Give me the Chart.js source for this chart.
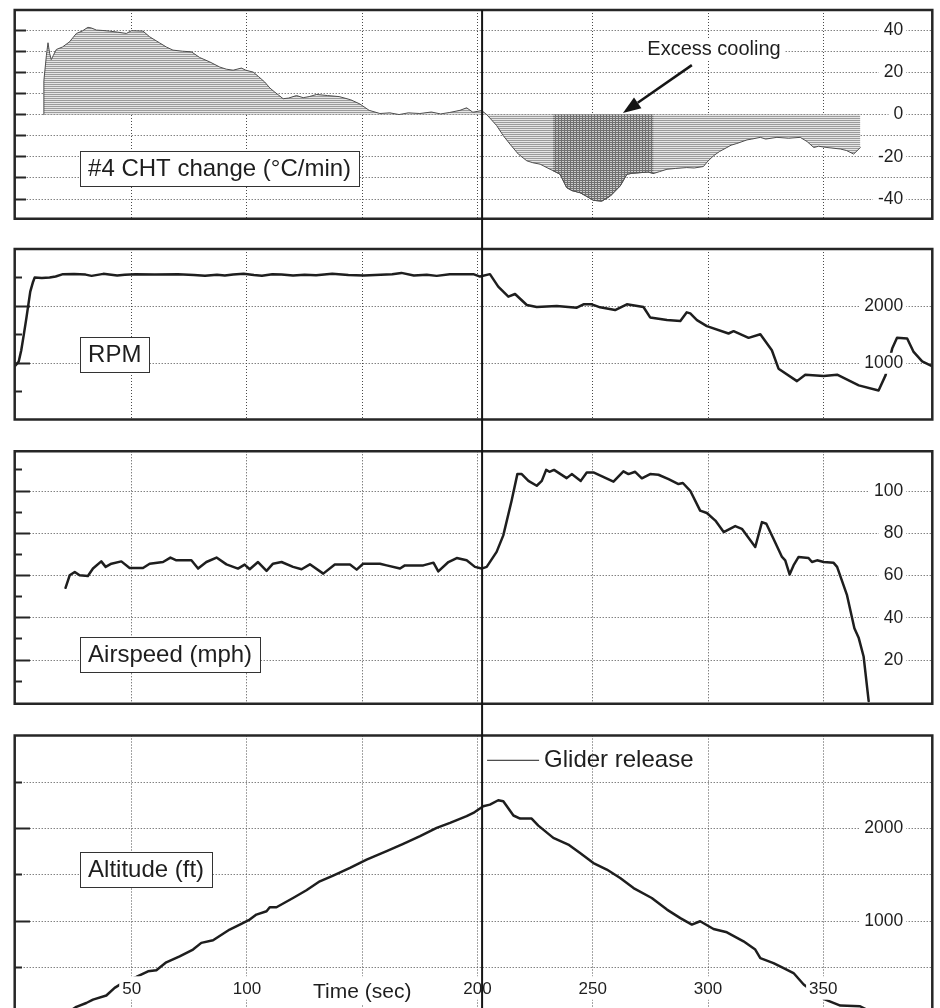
<!DOCTYPE html>
<html>
<head>
<meta charset="utf-8">
<script src="https://cdn.jsdelivr.net/npm/chart.js@4.4.1/dist/chart.umd.min.js"></script>
<style>
  html, body { margin: 0; padding: 0; background: #fff; overflow: hidden; }
  canvas { position: absolute; left: 0; }
</style>
</head>
<body>
<canvas id="cht" width="940" height="234" style="top:0px"></canvas>
<canvas id="rpm" width="940" height="201" style="top:234px"></canvas>
<canvas id="air" width="940" height="284" style="top:435px"></canvas>
<canvas id="alt" width="940" height="289" style="top:719px"></canvas>
<script>
// time axis
var xGridTicks = [50, 100, 150, 200, 250, 300, 350];
var xTickLabels = ['50', '100', 'Time (sec)', '200', '250', '300', '350'];
var gliderTime = 202;

// #4 CHT change (°C/min)
var chtTime = [11.8, 11.9, 13.0, 13.7, 14.4, 15.1, 16.0, 17.3, 20, 23,
  26, 28.5, 31, 32.5, 34.7, 37.5, 40.4, 44, 47.7, 49.9,
  54.9, 57.8, 62, 65, 67.9, 72, 75.9, 79.5, 83.9, 88.2,
  91, 94, 97.6, 99.5, 102.7, 105, 107.7, 110, 112.1, 115.7,
  118, 121.5, 124.4, 127, 130.2, 135, 140, 145, 149, 153,
  157.7, 162, 166, 170, 175, 180, 184, 188, 192.4, 195.3,
  198, 201.8, 204, 208.3, 211.2, 214.1, 217.7, 221.4, 224, 227.2,
  231.5, 232.7, 235.8, 238.7, 241, 244.5, 247, 250.3, 253.9, 257.6,
  261.9, 264.8, 267, 270.6, 274, 276.4, 279, 282.2, 286, 290.8,
  294, 298, 300, 302.4, 305, 308.2, 310, 312.5, 316.9, 319,
  322.7, 325, 329.9, 335, 340, 343, 345.9, 348, 351.6, 357.4,
  360, 363.2, 366.1];
var chtValue = [0, 16, 28, 34, 29, 26, 28, 30.8, 32, 34.4,
  38.4, 39.5, 41.3, 41, 40, 39.8, 39.5, 39, 38.4, 39.7,
  39.5, 36.8, 34, 32, 30.5, 30, 29.7, 27, 24.9, 22.5,
  21.5, 21, 22, 21, 20.1, 18, 15.4, 12.5, 10.6, 7.5,
  7.8, 9, 8, 8.5, 9.5, 9, 8.5, 7, 5, 2,
  0.5, 0.8, 0, 0.8, 0.5, 1.2, 0.3, 1, 2, 3.2,
  1.1, 1.9, 0, -5.2, -10, -14, -18.7, -21.9, -22.8, -23.5,
  -25.9, -26.5, -28.2, -34.6, -36, -37, -38.5, -40.6, -41, -38.6,
  -33.8, -28.3, -27.8, -27.5, -27.2, -27.9, -27, -25.9, -25.5, -25.1,
  -25.3, -24.6, -22, -19.5, -17.5, -15.6, -14.5, -13.7, -12, -11.6,
  -10.8, -11.6, -10.8, -11.2, -10.8, -12.8, -15.6, -15, -15.6, -16.3,
  -17, -18.7, -15.6];
var excessSpan = [232.7, 276.4];
var chtGrid = [-40, -30, -20, -10, 0, 10, 20, 30, 40];
var chtLabels = [-40, -20, 0, 20, 40];

// RPM
var rpmTime = [-0.7, 1, 2.1, 3.2, 4.3, 6.0, 7.2, 7.9, 11, 14.4,
  17, 20.2, 25, 30, 32.6, 37.7, 43.7, 47, 51.6, 60,
  70, 77, 81.8, 87, 90.4, 94, 98.6, 103, 106.5, 111,
  115, 120, 125, 130, 137, 144, 150.7, 158, 163, 167,
  172.4, 178, 182.3, 188, 192.4, 198.2, 201.1, 205.4, 209, 213.4,
  216.3, 221.4, 225.7, 234.4, 243.1, 246, 249.6, 253.2, 259.7, 264.8,
  272, 274.9, 282.2, 288, 290.8, 292.3, 295.2, 299.5, 308.9, 311.1,
  317.6, 322.7, 327.7, 330.6, 338.6, 342.2, 350.2, 356, 365.4, 374,
  377, 379.9, 382, 386.4, 389.2, 392.9, 397.9];
var rpmValue = [950, 1030, 1228, 1500, 1784, 2250, 2420, 2496, 2490, 2496,
  2515, 2556, 2560, 2548, 2526, 2561, 2531, 2545, 2556, 2550,
  2556, 2540, 2526, 2545, 2531, 2550, 2561, 2540, 2530, 2556,
  2550, 2531, 2545, 2535, 2561, 2540, 2531, 2545, 2556, 2578,
  2531, 2545, 2526, 2556, 2556, 2556, 2514, 2556, 2338, 2163,
  2210, 2017, 1982, 2000, 1970, 2029, 2029, 1977, 1930, 2029,
  1982, 1801, 1754, 1737, 1889, 1871, 1754, 1649, 1520, 1561,
  1444, 1508, 1228, 906, 689, 801, 777, 801, 614, 526,
  789, 1257, 1444, 1432, 1198, 1035, 935];
var rpmGrid = [1000, 2000];
var rpmMinor = [500, 1500, 2500];

// Airspeed (mph)
var airTime = [21.3, 23.1, 25.3, 27.4, 31, 33.2, 36.8, 38.7, 41.2, 45.5,
  49.1, 54.9, 57.8, 63.6, 66.8, 69.4, 75.9, 78.8, 82.4, 86.8,
  91.1, 96.1, 99, 101.2, 104.8, 108.5, 111.3, 115, 120, 123.7,
  127.3, 133.1, 138.1, 144.7, 147.6, 150.4, 157.7, 160.6, 166.4, 168.5,
  176.5, 180.9, 183, 187.4, 191, 195.3, 198.9, 201.8, 204, 208.3,
  211.2, 214.8, 217.3, 219.2, 222.1, 225.7, 227.9, 229.8, 231.2, 233.2,
  238.7, 240.9, 244.8, 247.4, 250.3, 259, 263.3, 265.5, 268.4, 271.3,
  274.9, 278.5, 282.9, 287.2, 289.1, 292.3, 296.6, 299.5, 303.2, 306.8,
  311.8, 314.7, 320.5, 323.4, 325.3, 328.4, 332.1, 333.5, 335.4, 337.1,
  339.3, 343.6, 345.1, 347.3, 350.2, 354.5, 356, 360.3, 363.5, 365.4,
  367.5, 369.7];
var airValue = [54.2, 60.1, 61.7, 60.1, 59.8, 63.3, 66.7, 64.1, 65.6, 66.7,
  63.6, 63.6, 65.6, 66.4, 68.5, 67.2, 67.2, 63.3, 66.4, 68.5,
  65.3, 63.3, 65.2, 63, 66.4, 62.2, 65.6, 66.4, 64.1, 63,
  65.3, 60.9, 65.2, 65.2, 62.8, 65.6, 65.6, 64.8, 63.3, 64.8,
  64.8, 66.1, 62, 66.4, 68.3, 67.2, 64.1, 63.3, 64.1, 71.2,
  79, 95.4, 108, 108, 104.8, 102.5, 104.8, 110, 109.1, 110,
  106.1, 108, 104.8, 108.8, 108.8, 104.4, 109.3, 108, 109.1, 106,
  108, 107.7, 105.6, 103.3, 103.8, 100.1, 90.7, 89.6, 86, 80.6,
  83.4, 82.1, 73.5, 85.3, 84.5, 77.4, 68.8, 67.2, 60.5, 64.8,
  68.8, 68.3, 66.4, 67.2, 66.4, 66, 64.1, 50.7, 35.1, 30.4,
  21.7, 0.6];
var airGrid = [20, 40, 60, 80, 100];
var airMinor = [10, 30, 50, 70, 90, 110];

// Altitude (ft)
var altTime = [24, 26, 30.3, 33.2, 39, 42.6, 47, 52, 57.1, 60.7,
  65, 70.8, 76.6, 80.2, 85.3, 92.5, 96.9, 101.2, 104.1, 108.5,
  109.9, 112.8, 120, 125.8, 131.6, 137.4, 144.7, 151.9, 160.6, 167.8,
  175.1, 182.3, 188.1, 195.3, 198.2, 202.5, 205.4, 209, 211.2, 215.6,
  218.5, 223.5, 226.4, 232.9, 239.4, 244.5, 250.3, 256.1, 261.9, 267.7,
  275.6, 282.2, 288, 293, 296.6, 302.4, 308.2, 315.4, 320.5, 322.7,
  328.4, 332.8, 337.1, 341.5, 346, 350.9, 357.4, 366, 369];
var altValue = [40, 73, 114, 151, 195, 278, 345, 397, 457, 468,
  554, 619, 692, 764, 792, 908, 962, 1016, 1070, 1106,
  1149, 1149, 1249, 1333, 1430, 1492, 1575, 1665, 1755, 1834,
  1917, 2008, 2062, 2134, 2169, 2241, 2259, 2306, 2295, 2141,
  2108, 2108, 2032, 1899, 1827, 1735, 1627, 1557, 1465, 1357,
  1249, 1124, 1032, 962, 998, 914, 878, 781, 692, 600,
  546, 492, 438, 314, 230, 151, 86, 79, 40];
var altGrid = [500, 1000, 1500, 2000, 2500];
var altLabels = [1000, 2000];
var altMinor = [500, 1500, 2500];

var FONT = '"Liberation Sans", Arial, Helvetica, sans-serif';
var INK = '#1e1e1e';
var GRID = '#4a4a4a';
var xMin = -0.75, xMax = 397.3;
var pxPerSec = 2.305;

Chart.defaults.font.family = FONT;
Chart.defaults.color = INK;

function pts(t, v) {
  return t.map(function (x, i) { return {x: x, y: v[i]}; });
}

function hatch(w, h, bg, ink, cross) {
  var c = document.createElement('canvas');
  c.width = w; c.height = h;
  var g = c.getContext('2d');
  g.fillStyle = bg; g.fillRect(0, 0, w, h);
  g.fillStyle = ink; g.fillRect(0, 0, w, 1);
  if (cross) g.fillRect(0, 0, 1, h);
  return g.createPattern(c, 'repeat');
}

// short tick marks pointing into the plot from the left frame
function tickAxis(values, len, min, max) {
  return {
    type: 'linear', axis: 'y', min: min, max: max,
    position: {x: xMin + len / pxPerSec},
    afterBuildTicks: function (s) { s.ticks = values.map(function (v) { return {value: v}; }); },
    ticks: {display: false},
    grid: {drawOnChartArea: false, drawTicks: true, tickLength: len, tickWidth: 2, tickColor: '#262626'},
    border: {display: false}
  };
}

function boxLabel(chart, text, t, v) {
  var ctx = chart.ctx;
  var px = chart.scales.x.getPixelForValue(t);
  var py = chart.scales.y.getPixelForValue(v);
  ctx.font = '24px ' + FONT;
  var w = ctx.measureText(text).width + 16, h = 35;
  var top = Math.round(py - h / 2);
  ctx.fillStyle = '#fff';
  ctx.fillRect(px, top, w, h);
  ctx.lineWidth = 1;
  ctx.strokeStyle = '#333';
  ctx.strokeRect(Math.round(px) + 0.5, top + 0.5, Math.round(w), h);
  ctx.fillStyle = INK;
  ctx.textAlign = 'left';
  ctx.textBaseline = 'middle';
  ctx.fillText(text, px + 8, py + 1);
}

function decor(o) {
  return {
    id: 'decor',
    afterDraw: function (chart) {
      var ctx = chart.ctx, a = chart.chartArea;
      ctx.save();
      ctx.strokeStyle = '#262626';
      ctx.lineWidth = 2.5;
      ctx.beginPath();
      if (o.open) {
        ctx.moveTo(a.left, chart.height);
        ctx.lineTo(a.left, a.top);
        ctx.lineTo(a.right, a.top);
        ctx.lineTo(a.right, chart.height);
      } else {
        ctx.rect(a.left, a.top, a.right - a.left, a.bottom - a.top);
      }
      ctx.stroke();
      var gx = chart.scales.x.getPixelForValue(gliderTime);
      ctx.strokeStyle = '#151515';
      ctx.lineWidth = 2;
      ctx.beginPath();
      ctx.moveTo(gx, o.first ? a.top : 0);
      ctx.lineTo(gx, chart.height);
      ctx.stroke();
      boxLabel(chart, o.name, 27.6, o.nameAt);
      if (o.extra) o.extra(chart, ctx, gx);
      ctx.restore();
    }
  };
}

function panel(id, o) {
  var xAxis = {
    type: 'linear', min: xMin, max: xMax,
    position: o.xAt ? {y: o.xAt} : 'bottom',
    afterBuildTicks: function (s) { s.ticks = xGridTicks.map(function (v) { return {value: v}; }); },
    grid: {color: GRID, lineWidth: 1, drawTicks: false},
    border: {display: false, dash: [1, 2]},
    ticks: {display: false}
  };
  if (o.xAt) {
    xAxis.ticks = {
      display: true, padding: 12, z: 1, color: INK, autoSkip: false, maxRotation: 0,
      font: function (c) { return {family: FONT, size: c.tick && c.tick.value === 150 ? 21 : 17}; },
      callback: function (v) { return xTickLabels[xGridTicks.indexOf(v)]; },
      showLabelBackdrop: true, backdropColor: '#fff',
      backdropPadding: {left: 3, right: 3, top: 3, bottom: 0}
    };
  }
  var scales = {
    x: xAxis,
    y: {
      type: 'linear', position: 'right', min: o.min, max: o.max,
      afterBuildTicks: function (s) { s.ticks = o.grid.map(function (v) { return {value: v}; }); },
      afterFit: function (s) { s.width = 0; s.paddingTop = 0; s.paddingBottom = 0; },
      grid: {color: GRID, lineWidth: 1, drawTicks: false},
      border: {display: false, dash: [1, 2]},
      ticks: {
        mirror: true, padding: -29, z: 1, color: INK, font: {size: 17.5},
        callback: function (v) { return o.labels.indexOf(v) >= 0 ? String(v) : ''; },
        showLabelBackdrop: true,
        backdropColor: function (c) { return c.tick && c.tick.label !== '' ? '#fff' : 'rgba(0,0,0,0)'; },
        backdropPadding: {left: 5, right: 3, top: 0, bottom: 0}
      }
    },
    yl: tickAxis(o.major, o.majorLen, o.min, o.max)
  };
  if (o.minor) scales.ys = tickAxis(o.minor, 7.5, o.min, o.max);

  return new Chart(document.getElementById(id), {
    type: 'line',
    data: {datasets: o.datasets},
    options: {
      responsive: false,
      animation: false,
      events: [],
      layout: {padding: o.pad},
      elements: {point: {radius: 0}, line: {tension: 0, borderJoinStyle: 'round', borderCapStyle: 'round'}},
      plugins: {legend: {display: false}, tooltip: {enabled: false}},
      scales: scales
    },
    plugins: [decor(o)]
  });
}

function trace(t, v) {
  return {data: pts(t, v), borderColor: INK, borderWidth: 2.5, fill: false};
}

var lightHatch = hatch(3, 2, '#e6e6e6', '#9c9c9c', false);
var darkHatch = hatch(3, 2, '#cdcdcd', '#707070', true);

var chtPoints = pts(chtTime, chtValue);
var excessPoints = chtPoints.filter(function (p) { return p.x >= excessSpan[0] && p.x <= excessSpan[1]; });

panel('cht', {
  first: true, min: -49.3, max: 49.5,
  grid: chtGrid, labels: chtLabels, major: chtGrid, majorLen: 11,
  pad: {top: 10, bottom: 15.3, left: 14.7, right: 7.7},
  name: '#4 CHT change (°C/min)', nameAt: -25.3,
  datasets: [
    {data: excessPoints, borderColor: '#4d4d4d', borderWidth: 1, fill: 'origin', backgroundColor: darkHatch},
    {data: chtPoints, borderColor: '#4d4d4d', borderWidth: 1, fill: 'origin', backgroundColor: lightHatch}
  ],
  extra: function (chart, ctx) {
    var sx = chart.scales.x, sy = chart.scales.y;
    var tx = sx.getPixelForValue(302.6), ty = sy.getPixelForValue(31);
    ctx.font = '20px ' + FONT;
    var w = ctx.measureText('Excess cooling').width;
    ctx.fillStyle = '#fff';
    ctx.fillRect(tx - w / 2 - 4, ty - 11, w + 8, 22);
    ctx.fillStyle = INK;
    ctx.textAlign = 'center';
    ctx.textBaseline = 'middle';
    ctx.fillText('Excess cooling', tx, ty);
    var x0 = sx.getPixelForValue(293), y0 = sy.getPixelForValue(23.4);
    var x1 = sx.getPixelForValue(263.1), y1 = sy.getPixelForValue(0.7);
    var ang = Math.atan2(y1 - y0, x1 - x0), hl = 18, hw = 6.5;
    var bx = x1 - hl * Math.cos(ang), by = y1 - hl * Math.sin(ang);
    ctx.strokeStyle = '#151515';
    ctx.lineWidth = 2.5;
    ctx.beginPath(); ctx.moveTo(x0, y0); ctx.lineTo(bx, by); ctx.stroke();
    ctx.fillStyle = '#151515';
    ctx.beginPath();
    ctx.moveTo(x1, y1);
    ctx.lineTo(bx + hw * Math.sin(ang), by - hw * Math.cos(ang));
    ctx.lineTo(bx - hw * Math.sin(ang), by + hw * Math.cos(ang));
    ctx.closePath(); ctx.fill();
  }
});

panel('rpm', {
  min: 19, max: 2995,
  grid: rpmGrid, labels: rpmGrid, major: rpmGrid, majorLen: 15, minor: rpmMinor,
  pad: {top: 15, bottom: 15.5, left: 14.7, right: 7.7},
  name: 'RPM', nameAt: 1148,
  datasets: [trace(rpmTime, rpmValue)]
});

panel('air', {
  min: -0.7, max: 118.8,
  grid: airGrid, labels: airGrid, major: airGrid, majorLen: 15, minor: airMinor,
  pad: {top: 16.3, bottom: 15.2, left: 14.7, right: 7.7},
  name: 'Airspeed (mph)', nameAt: 22.6,
  datasets: [trace(airTime, airValue)]
});

panel('alt', {
  open: true, min: 60, max: 3006, xAt: 500,
  grid: altGrid, labels: altLabels, major: altLabels, majorLen: 15, minor: altMinor,
  pad: {top: 16.5, bottom: 0, left: 14.7, right: 7.7},
  name: 'Altitude (ft)', nameAt: 1558,
  datasets: [trace(altTime, altValue)],
  extra: function (chart, ctx, gx) {
    var y = chart.scales.y.getPixelForValue(2738);
    ctx.strokeStyle = INK;
    ctx.lineWidth = 1;
    ctx.beginPath(); ctx.moveTo(gx + 5, y); ctx.lineTo(gx + 57, y); ctx.stroke();
    ctx.font = '24px ' + FONT;
    ctx.fillStyle = INK;
    ctx.textAlign = 'left';
    ctx.textBaseline = 'middle';
    ctx.fillText('Glider release', gx + 62, y);
  }
});
</script>
</body>
</html>
